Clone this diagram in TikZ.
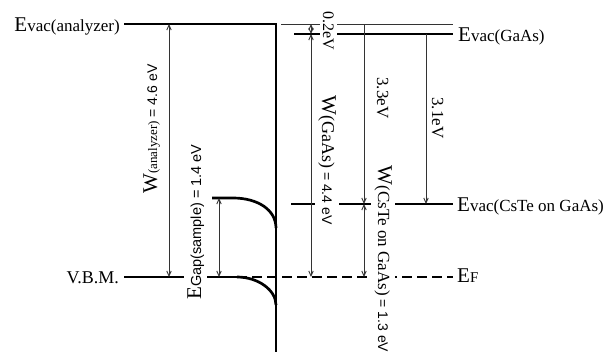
\documentclass[tikz,border=0pt]{standalone}
\usepackage{fontspec}
\setmainfont{Liberation Serif}
\newfontfamily\lsans{Liberation Sans}
\usetikzlibrary{arrows.meta}
\newcommand\myfs[2]{{\fontsize{#1}{#1}\selectfont #2}}
\begin{document}
\begin{tikzpicture}[x=1pt,y=-1pt,
  thickline/.style={line width=2.7pt},
  thinline/.style={line width=0.9pt, draw=black!80},
  tip/.tip={Straight Barb[length=5pt,width=4.5pt]},
  dimboth/.style={thinline, tip-tip},
  dimdown/.style={thinline, -tip},
  lbl/.style={inner sep=0pt},
  vlbl/.style={fill=white, inner sep=3pt},
]
\useasboundingbox (0,0) rectangle (608,357);
% coordinates
\coordinate (anL) at (124,24);
\coordinate (corner) at (276,24);
\coordinate (bot) at (276,352);
\coordinate (refL) at (281,24);
\coordinate (refR) at (453,24);
\coordinate (gaL) at (294,34);
\coordinate (gaR) at (453,34);
\coordinate (csL) at (291,204);
\coordinate (csR) at (453,204);
\coordinate (vbL) at (124,277);
\coordinate (vbM) at (237,277);
\coordinate (efR) at (453,277);
\coordinate (cbL) at (212,198);
\coordinate (cbK) at (233,198);
\coordinate (cbE) at (276,228);
\coordinate (vbE) at (276,305);
% levels
\draw[thickline] (anL) -- (corner) -- (bot);
\draw[thinline] (refL) -- (refR);
\draw[thickline] (gaL) -- (gaR);
\draw[thickline] (csL) -- (csR);
\draw[thickline] (vbL) -- (vbM);
\draw[thickline, dash pattern=on 10pt off 5pt] (vbM) -- (efR);
% band bending
\draw[thickline] (cbL) -- (cbK) .. controls (258,198) and (276,210) .. (cbE);
\draw[thickline] (vbM) .. controls (258,277) and (276,290) .. (vbE);
% dimension arrows
\coordinate (a1t) at (169,24);  \coordinate (a1b) at (169,277);
\coordinate (g1t) at (219,198); \coordinate (g1b) at (219,277);
\coordinate (b1t) at (311,24);  \coordinate (b1m) at (311,34);  \coordinate (b1b) at (311,277);
\coordinate (c1t) at (364,24);  \coordinate (c1m) at (364,204); \coordinate (c1b) at (364,277);
\coordinate (d1t) at (426,34);  \coordinate (d1b) at (426,204);
\draw[dimboth] (a1t) -- (a1b);
\draw[dimboth] (g1t) -- (g1b);
\draw[dimboth] (b1t) -- (b1m);
\draw[dimboth] (b1m) -- (b1b);
\draw[dimdown] (c1t) -- (c1m);
\draw[dimboth] (c1m) -- (c1b);
\draw[dimdown] (d1t) -- (d1b);
% rotated labels
\node[vlbl, rotate=90, anchor=base] (lwan) at (157,129)
  {\myfs{21}{W}\myfs{13}{(analyzer)}\myfs{14}{\lsans{} = 4.6 eV}};
\node[vlbl, rotate=90, anchor=base] (lgap) at (201,222)
  {\myfs{21}{E}\myfs{14.5}{\lsans Gap(sample) = 1.4 eV}};
\node[vlbl, rotate=-90, anchor=base] (lwga) at (322,160)
  {\myfs{21}{W}\myfs{18}{(GaAs)}\myfs{14}{\lsans{} = 4.4 eV}};
\node[vlbl, rotate=-90, anchor=base] (lwcs) at (378,259)
  {\myfs{21}{W}\myfs{17}{(CsTe on GaAs)}\myfs{14}{\lsans{} = 1.3 eV}};
\node[vlbl, rotate=-90, anchor=base] (l02) at (323,31) {\myfs{16}{0.2eV}};
\node[vlbl, rotate=-90, anchor=base] (l33) at (377,98) {\myfs{17}{3.3eV}};
\node[vlbl, rotate=-90, anchor=base] (l31) at (432,118) {\myfs{17}{3.1eV}};
% level names
\node[lbl, anchor=base east] (tEan) at (120,31) {\myfs{21}{E}\myfs{17}{vac(analyzer)}};
\node[lbl, anchor=base east] (tvbm) at (119,283) {\myfs{18}{V.B.M.}};
\node[lbl, anchor=base west] (tEga) at (458,41) {\myfs{21}{E}\myfs{17}{vac(GaAs)}};
\node[lbl, anchor=base west] (tEcs) at (457,211) {\myfs{21}{E}\myfs{17}{vac(CsTe on GaAs)}};
\node[lbl, anchor=base west] (tEF) at (457,282) {\myfs{21}{E}\myfs{15}{F}};
\end{tikzpicture}
\end{document}
